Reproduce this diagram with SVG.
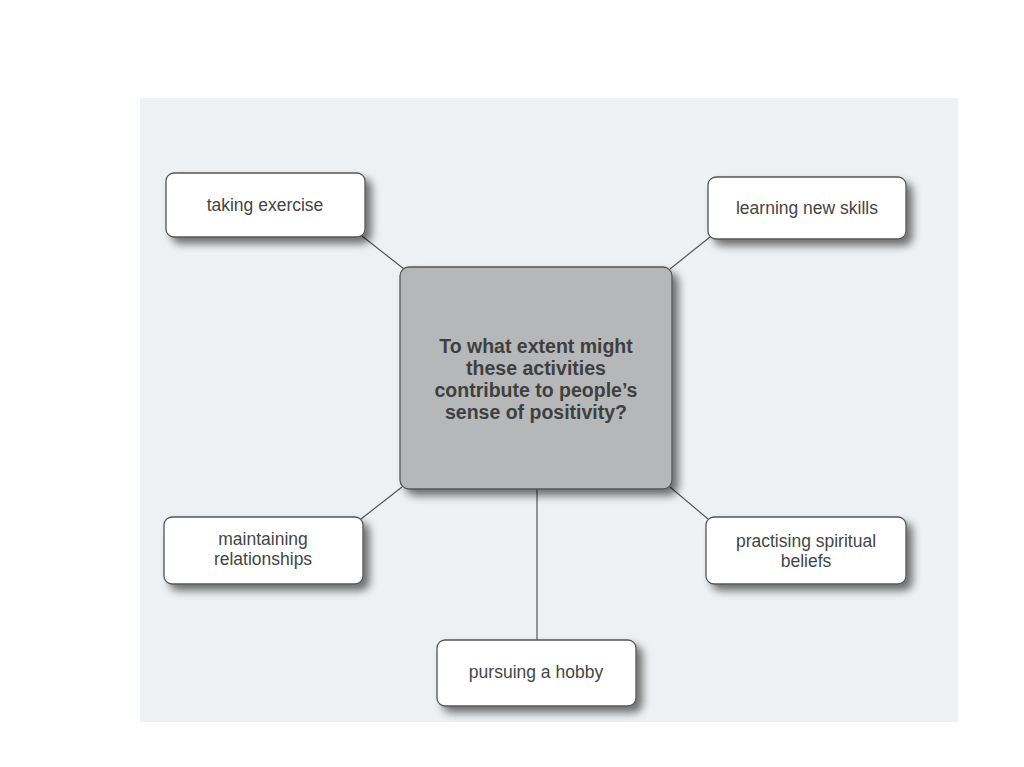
<svg xmlns="http://www.w3.org/2000/svg" width="1024" height="767" viewBox="0 0 1024 767">
<defs>
<filter id="sh" x="-20%" y="-20%" width="150%" height="160%">
<feGaussianBlur in="SourceAlpha" stdDeviation="4"/>
<feOffset dx="6" dy="6" result="b"/>
<feComponentTransfer><feFuncA type="linear" slope="0.55"/></feComponentTransfer>
<feMerge><feMergeNode/><feMergeNode in="SourceGraphic"/></feMerge>
</filter>
</defs>
<style>
.box{fill:#ffffff;stroke:#555;stroke-width:1.3}
.ctr{fill:#b5b7b9;stroke:#555;stroke-width:1.3}
.t{font-family:"Liberation Sans",Arial,sans-serif;font-size:17.5px;fill:#454545;text-anchor:middle}
.ct{font-family:"Liberation Sans",Arial,sans-serif;font-size:19.5px;font-weight:bold;fill:#3f3f3f;text-anchor:middle}
.c{stroke:#555;stroke-width:1.2;fill:none}
</style>
<rect x="0" y="0" width="1024" height="767" fill="#ffffff"/>
<rect x="140" y="98" width="818" height="624" fill="#eef1f3"/>
<g id="connectors">
<line class="c" x1="362" y1="236" x2="404" y2="269"/>
<line class="c" x1="710" y1="237" x2="670" y2="269"/>
<line class="c" x1="402" y1="487" x2="361" y2="519"/>
<line class="c" x1="670" y1="487" x2="708" y2="519"/>
<line class="c" x1="537" y1="489" x2="537" y2="640"/>
</g>
<g id="center">
<rect class="ctr" x="400" y="267" width="272" height="222" rx="9" filter="url(#sh)"/>
<text class="ct"><tspan x="536" y="353">To what extent might</tspan><tspan x="536" y="375">these activities</tspan><tspan x="536" y="397">contribute to people’s</tspan><tspan x="536" y="419">sense of positivity?</tspan></text>
</g>
<g id="taking-exercise">
<rect class="box" x="166" y="173" width="199" height="64" rx="8" filter="url(#sh)"/>
<text class="t" x="265" y="211">taking exercise</text>
</g>
<g id="learning-new-skills">
<rect class="box" x="708" y="177" width="198" height="62" rx="8" filter="url(#sh)"/>
<text class="t" x="807" y="214">learning new skills</text>
</g>
<g id="maintaining-relationships">
<rect class="box" x="164" y="517" width="199" height="67" rx="8" filter="url(#sh)"/>
<text class="t"><tspan x="263" y="545">maintaining</tspan><tspan x="263" y="565">relationships</tspan></text>
</g>
<g id="practising-spiritual-beliefs">
<rect class="box" x="706" y="517" width="200" height="67" rx="8" filter="url(#sh)"/>
<text class="t"><tspan x="806" y="547">practising spiritual</tspan><tspan x="806" y="567">beliefs</tspan></text>
</g>
<g id="pursuing-a-hobby">
<rect class="box" x="437" y="640" width="199" height="66" rx="8" filter="url(#sh)"/>
<text class="t" x="536" y="678">pursuing a hobby</text>
</g>
</svg>
